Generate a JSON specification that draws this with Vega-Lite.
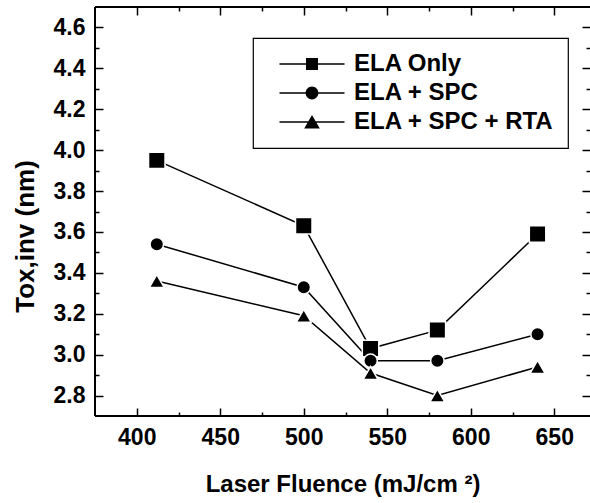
{
  "$schema": "https://vega.github.io/schema/vega-lite/v6.json",
  "autosize": "none",
  "padding": {"left": 94, "top": 6, "right": 0, "bottom": 87},
  "width": 496,
  "height": 410,
  "background": "white",
  "config": {
    "view": {"stroke": null},
    "axis": {
      "grid": false,
      "domain": false,
      "tickColor": "black",
      "tickWidth": 1.5,
      "labelColor": "black",
      "labelFont": "Liberation Sans",
      "labelFontWeight": "bold",
      "labelFontSize": 23,
      "titleFont": "Liberation Sans",
      "titleFontWeight": "bold",
      "titleColor": "black",
      "titleFontSize": 24
    },
    "legend": {"strokeWidth": 1.2}
  },
  "data": {
    "values": [
      {"x": 412, "y": 3.95, "s": "ELA Only"},
      {"x": 500, "y": 3.63, "s": "ELA Only"},
      {"x": 540, "y": 3.03, "s": "ELA Only"},
      {"x": 580, "y": 3.12, "s": "ELA Only"},
      {"x": 640, "y": 3.59, "s": "ELA Only"},
      {"x": 412, "y": 3.54, "s": "ELA + SPC"},
      {"x": 500, "y": 3.33, "s": "ELA + SPC"},
      {"x": 540, "y": 2.97, "s": "ELA + SPC"},
      {"x": 580, "y": 2.97, "s": "ELA + SPC"},
      {"x": 640, "y": 3.10, "s": "ELA + SPC"},
      {"x": 412, "y": 3.36, "s": "ELA + SPC + RTA"},
      {"x": 500, "y": 3.19, "s": "ELA + SPC + RTA"},
      {"x": 540, "y": 2.91, "s": "ELA + SPC + RTA"},
      {"x": 580, "y": 2.80, "s": "ELA + SPC + RTA"},
      {"x": 640, "y": 2.94, "s": "ELA + SPC + RTA"}
    ]
  },
  "resolve": {"axis": {"x": "independent", "y": "independent"}, "scale": {"shape": "independent"}},
  "layer": [
    {
      "mark": {"type": "line", "color": "black", "strokeWidth": 1.5},
      "encoding": {
        "x": {
          "field": "x", "type": "quantitative",
          "scale": {"domain": [375, 671.4], "range": [1, 496], "nice": false, "zero": false},
          "axis": {
            "orient": "bottom", "values": [400, 450, 500, 550, 600, 650], "format": "d",
            "tickSize": -8, "labelPadding": 18, "title": "Laser Fluence (mJ/cm ²)", "titlePadding": 23
          }
        },
        "y": {
          "field": "y", "type": "quantitative",
          "scale": {"domain": [2.7, 4.7], "range": [410, 1], "nice": false, "zero": false},
          "axis": {
            "orient": "left", "values": [2.8, 3.0, 3.2, 3.4, 3.6, 3.8, 4.0, 4.2, 4.4, 4.6], "format": ".1f",
            "tickSize": -9, "labelPadding": 18, "title": "Tox,inv (nm)", "titlePadding": 15,
            "titleFontSize": 26, "titleY": 230
          }
        },
        "detail": {"field": "s"}
      }
    },
    {
      "mark": {"type": "point", "filled": true, "color": "black", "stroke": "white", "strokeWidth": 1.5, "opacity": 1},
      "encoding": {
        "x": {
          "field": "x", "type": "quantitative",
          "axis": {"orient": "bottom", "values": [425, 475, 525, 575, 625], "tickSize": -4, "labels": false, "title": null}
        },
        "y": {
          "field": "y", "type": "quantitative",
          "axis": {"orient": "left", "values": [2.9, 3.1, 3.3, 3.5, 3.7, 3.9, 4.1, 4.3, 4.5], "tickSize": -5, "labels": false, "title": null}
        },
        "shape": {
          "field": "s", "type": "nominal",
          "scale": {"domain": ["ELA Only", "ELA + SPC", "ELA + SPC + RTA"], "range": ["square", "circle", "triangle-up"]},
          "legend": null
        },
        "size": {
          "field": "s", "type": "nominal",
          "scale": {"domain": ["ELA + SPC", "ELA + SPC + RTA", "ELA Only"], "range": [182, 272, 163]},
          "legend": null
        }
      }
    },
    {
      "mark": {"type": "point", "opacity": 0},
      "encoding": {
        "x": {
          "field": "x", "type": "quantitative",
          "axis": {"orient": "top", "values": [400, 450, 500, 550, 600, 650], "tickSize": -9, "labels": false, "title": null}
        },
        "y": {
          "field": "y", "type": "quantitative",
          "axis": {"orient": "right", "values": [2.8, 3.0, 3.2, 3.4, 3.6, 3.8, 4.0, 4.2, 4.4, 4.6], "tickSize": -8, "labels": false, "title": null}
        }
      }
    },
    {
      "mark": {"type": "point", "opacity": 0},
      "encoding": {
        "x": {
          "field": "x", "type": "quantitative",
          "axis": {"orient": "top", "values": [425, 475, 525, 575, 625], "tickSize": -5, "labels": false, "title": null}
        },
        "y": {
          "field": "y", "type": "quantitative",
          "axis": {"orient": "right", "values": [2.9, 3.1, 3.3, 3.5, 3.7, 3.9, 4.1, 4.3, 4.5], "tickSize": -4, "labels": false, "title": null}
        }
      }
    },
    {
      "mark": {"type": "point", "filled": true, "fill": "black", "strokeWidth": 0, "opacity": 0},
      "encoding": {
        "x": {"field": "x", "type": "quantitative", "axis": null},
        "y": {"field": "y", "type": "quantitative", "axis": null},
        "shape": {
          "field": "s", "type": "nominal",
          "scale": {
            "domain": ["ELA Only", "ELA + SPC", "ELA + SPC + RTA"],
            "range": [
              "M-2.955,-0.068H2.955V0.068H-2.955ZM-0.545,-0.545H0.545V0.545H-0.545Z",
              "M-2.955,-0.068H2.955V0.068H-2.955ZM0.582,0C0.582,0.321,0.321,0.582,0,0.582C-0.321,0.582,-0.582,0.321,-0.582,0C-0.582,-0.321,-0.321,-0.582,0,-0.582C0.321,-0.582,0.582,-0.321,0.582,0Z",
              "M-2.955,-0.068H2.955V0.068H-2.955ZM0,-0.64L0.71,0.59H-0.71Z"
            ]
          },
          "legend": {
            "orient": "none", "legendX": 159, "legendY": 32, "title": null,
            "symbolSize": 484, "symbolStrokeWidth": 0, "symbolOpacity": 1, "symbolOffset": 33,
            "symbolFillColor": "black", "symbolStrokeColor": "black",
            "labelFontSize": 24, "labelFont": "Liberation Sans", "labelFontWeight": "bold", "labelColor": "black",
            "labelLimit": 500, "labelOffset": 30, "rowPadding": 5, "padding": 14, "strokeColor": "black",
            "labelExpr": "datum.label + '  '"
          }
        }
      }
    },
    {
      "mark": {"type": "rule", "color": "black", "strokeWidth": 2},
      "encoding": {
        "x": {"datum": 375, "type": "quantitative", "axis": null},
        "y": {"datum": 2.7, "type": "quantitative", "axis": null},
        "y2": {"datum": 4.7}
      }
    },
    {
      "mark": {"type": "rule", "color": "black", "strokeWidth": 2},
      "encoding": {
        "x": {"datum": 375, "type": "quantitative", "axis": null},
        "x2": {"datum": 671.4},
        "y": {"datum": 4.7, "type": "quantitative", "axis": null}
      }
    },
    {
      "mark": {"type": "rule", "color": "black", "strokeWidth": 2},
      "encoding": {
        "x": {"datum": 375, "type": "quantitative", "axis": null},
        "x2": {"datum": 671.4},
        "y": {"datum": 2.7, "type": "quantitative", "axis": null}
      }
    }
  ]
}
